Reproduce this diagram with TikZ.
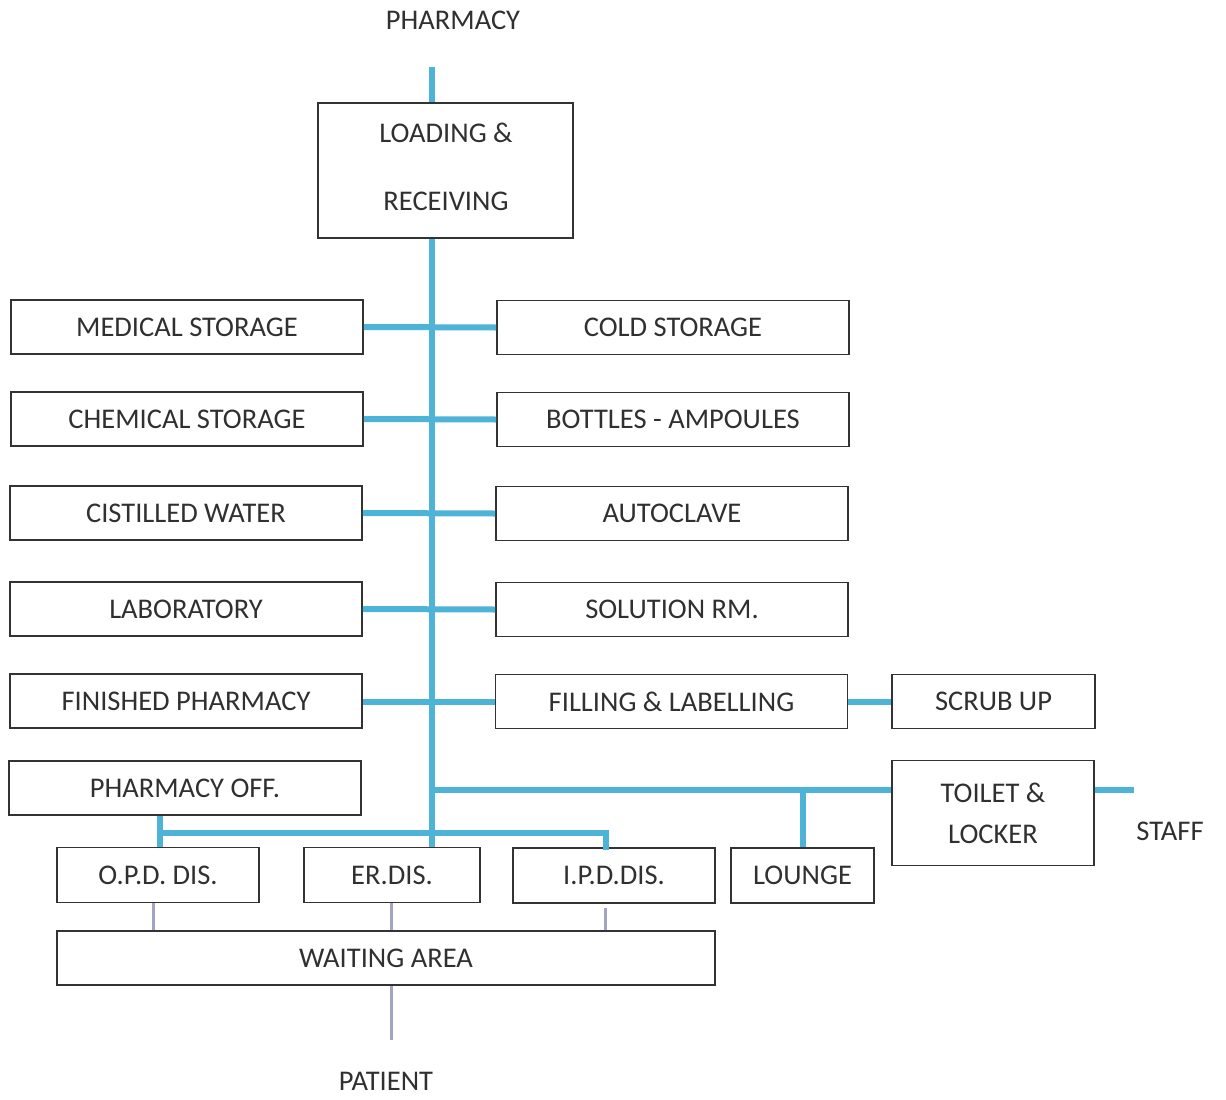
\documentclass[tikz,border=0pt]{standalone}
\usepackage{fontspec}
\setmainfont{Carlito}
\begin{document}
\begin{tikzpicture}[x=1pt,y=-1pt,
  every node/.style={font=\fontsize{28.5}{34}\selectfont, text=txt},
  box/.style={draw=edge, line width=1.8pt, inner sep=0pt, align=center},
  flow/.style={draw=flowblue, line width=6pt},
  walk/.style={draw=walkgray, line width=3pt},
  lbl/.style={inner sep=0pt}]
\definecolor{flowblue}{HTML}{4DB4D8}
\definecolor{walkgray}{HTML}{A3A3C6}
\definecolor{edge}{HTML}{333333}
\definecolor{txt}{HTML}{303030}
\useasboundingbox (0,0) rectangle (1226,1100);

% labels at the ends of the flows
\node[lbl] (pharm) at (453,20) {PHARMACY};
\node[lbl] (patient) at (386,1081) {PATIENT};
\node[lbl] (staff) at (1170,831) {STAFF};

% receiving
\node[box, minimum width=255pt, minimum height=135pt] (load) at (445.5,170.5) {};
\node[lbl] (loadA) at (446,133) {LOADING \&};
\node[lbl] (loadB) at (446,201) {RECEIVING};

% left column
\node[box, minimum width=352pt, minimum height=54pt] (med)  at (187,327) {MEDICAL STORAGE};
\node[box, minimum width=352pt, minimum height=54pt] (chem) at (187,419) {CHEMICAL STORAGE};
\node[box, minimum width=352pt, minimum height=54pt] (cist) at (186,513) {CISTILLED WATER};
\node[box, minimum width=352pt, minimum height=54pt] (lab)  at (186,609) {LABORATORY};
\node[box, minimum width=352pt, minimum height=54pt] (fin)  at (186,701) {FINISHED PHARMACY};
\node[box, minimum width=352pt, minimum height=54pt] (off)  at (185,788) {PHARMACY OFF.};

% right column
\node[box, minimum width=352pt, minimum height=54pt] (cold) at (673,327.5) {COLD STORAGE};
\node[box, minimum width=352pt, minimum height=54pt] (bott) at (673,419.5) {BOTTLES - AMPOULES};
\node[box, minimum width=352pt, minimum height=54pt] (auto) at (672,513.5) {AUTOCLAVE};
\node[box, minimum width=352pt, minimum height=54pt] (sol)  at (672,609.5) {SOLUTION RM.};
\node[box, minimum width=352pt, minimum height=54pt] (fill) at (671.5,701.5) {FILLING \& LABELLING};
\node[box, minimum width=203pt, minimum height=54pt] (scrub) at (993.5,701.5) {SCRUB UP};
\node[box, minimum width=202pt, minimum height=105pt] (toilet) at (993,813)
  {TOILET \&\\[7pt]LOCKER};

% dispensing row
\node[box, minimum width=202pt, minimum height=55pt] (opd) at (158,875) {O.P.D. DIS.};
\node[box, minimum width=176pt, minimum height=55pt] (er)  at (392,875) {ER.DIS.};
\node[box, minimum width=202pt, minimum height=55pt] (ipd) at (614,875.5) {I.P.D.DIS.};
\node[box, minimum width=143pt, minimum height=55pt] (lounge) at (802.5,875.5) {LOUNGE};
\node[box, minimum width=658pt, minimum height=54pt] (wait) at (386,958) {WAITING AREA};

% reference points of the main trunk
\coordinate (ttop) at (432,67);
\coordinate (sbar) at (432,790);
\coordinate (dbar) at (160,833);
\coordinate (dend) at (606,833);
\coordinate (staffend) at (1134,790);

% supply trunk
\draw[flow] (ttop) -- (ttop |- load.north);
\draw[flow] (ttop |- load.south) -- (ttop |- er.north);

% store branches
\draw[flow] (med.east) -- (cold.west);
\draw[flow] (chem.east) -- (bott.west);
\draw[flow] (cist.east) -- (auto.west);
\draw[flow] (lab.east) -- (sol.west);
\draw[flow] (fin.east |- fill.west) -- (fill.west);
\draw[flow] (fill.east) -- (scrub.west);

% staff branch
\draw[flow] (sbar) -- (sbar -| toilet.west);
\draw[flow] (sbar -| lounge.north) -- (lounge.north);
\draw[flow] (toilet.east |- staffend) -- (staffend);

% dispensing branch
\draw[flow] (dbar |- off.south) -- (dbar |- opd.north);
\draw[flow, line cap=rect] (dbar) -- (dend) -- (dend |- ipd.north);

% patient side
\draw[walk] (opd.south -| 153,0) -- (wait.north -| 153,0);
\draw[walk] (er.south -| 391,0) -- (wait.north -| 391,0);
\draw[walk] (605,908) -- (wait.north -| 605,0);
\draw[walk] (wait.south -| 391,0) -- (391,1040);
\end{tikzpicture}
\end{document}
